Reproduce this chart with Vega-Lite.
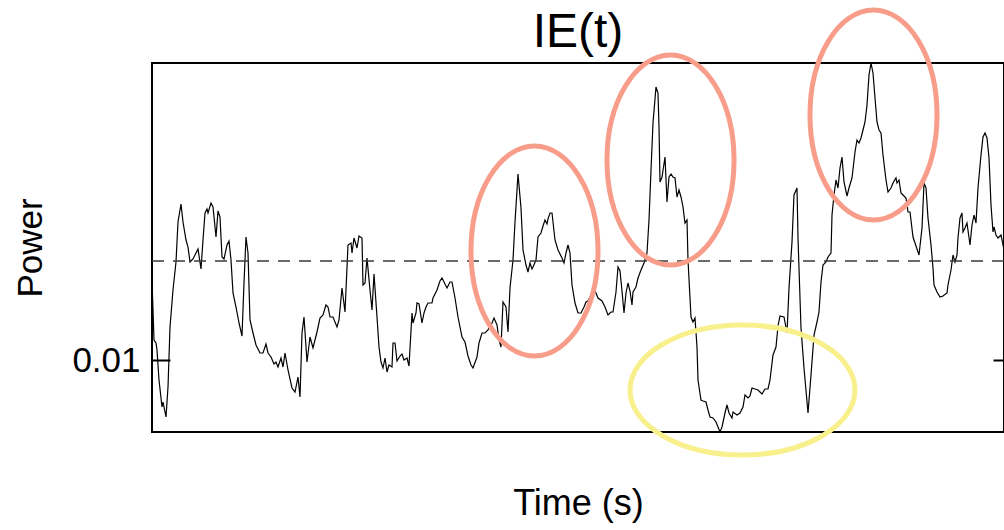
{
  "$schema": "https://vega.github.io/schema/vega-lite/v6.json",
  "width": 852,
  "height": 369,
  "autosize": "none",
  "padding": {"left": 152, "top": 63, "right": 0, "bottom": 98},
  "config": {
    "font": "Liberation Sans",
    "view": {"stroke": "black", "strokeWidth": 2},
    "background": "white"
  },
  "title": {"text": "IE(t)", "fontSize": 48, "fontWeight": "normal", "font": "Liberation Sans", "color": "black", "offset": -57, "anchor": "middle"},
  "datasets": {
    "series": [
{"t":0.0,"p":0.0180},{"t":0.2,"p":0.0120},{"t":0.4,"p":0.0117},{"t":0.5,"p":0.0110},{"t":0.7,"p":0.0080},{"t":1.0,"p":0.0053},{"t":1.1,"p":0.0058},{"t":1.4,"p":0.0043},{"t":1.6,"p":0.0073},{"t":1.8,"p":0.0133},
{"t":2.1,"p":0.0170},{"t":2.4,"p":0.0198},{"t":2.6,"p":0.0238},{"t":2.9,"p":0.0256},{"t":3.1,"p":0.0238},{"t":3.4,"p":0.0220},{"t":3.6,"p":0.0213},{"t":3.8,"p":0.0198},{"t":4.1,"p":0.0201},{"t":4.3,"p":0.0205},
{"t":4.6,"p":0.0211},{"t":4.9,"p":0.0191},{"t":5.1,"p":0.0220},{"t":5.3,"p":0.0247},{"t":5.5,"p":0.0251},{"t":5.6,"p":0.0247},{"t":5.9,"p":0.0257},{"t":6.1,"p":0.0253},{"t":6.4,"p":0.0223},{"t":6.6,"p":0.0249},
{"t":6.8,"p":0.0243},{"t":7.0,"p":0.0203},{"t":7.2,"p":0.0201},{"t":7.5,"p":0.0215},{"t":7.7,"p":0.0219},{"t":7.9,"p":0.0200},{"t":8.1,"p":0.0167},{"t":8.4,"p":0.0153},{"t":8.7,"p":0.0137},{"t":9.0,"p":0.0124},
{"t":9.2,"p":0.0177},{"t":9.4,"p":0.0223},{"t":9.6,"p":0.0207},{"t":9.8,"p":0.0140},{"t":10.1,"p":0.0127},{"t":10.4,"p":0.0115},{"t":10.8,"p":0.0107},{"t":11.1,"p":0.0107},{"t":11.4,"p":0.0116},{"t":11.6,"p":0.0107},
{"t":11.9,"p":0.0103},{"t":12.2,"p":0.0096},{"t":12.4,"p":0.0098},{"t":12.6,"p":0.0093},{"t":12.9,"p":0.0102},{"t":13.1,"p":0.0093},{"t":13.3,"p":0.0107},{"t":13.6,"p":0.0090},{"t":14.0,"p":0.0072},{"t":14.3,"p":0.0068},
{"t":14.6,"p":0.0083},{"t":14.8,"p":0.0063},{"t":15.0,"p":0.0127},{"t":15.2,"p":0.0143},{"t":15.5,"p":0.0098},{"t":15.8,"p":0.0123},{"t":16.1,"p":0.0112},{"t":16.5,"p":0.0128},{"t":16.8,"p":0.0142},{"t":17.1,"p":0.0145},
{"t":17.4,"p":0.0155},{"t":17.6,"p":0.0153},{"t":17.8,"p":0.0143},{"t":18.1,"p":0.0143},{"t":18.5,"p":0.0133},{"t":18.7,"p":0.0140},{"t":19.0,"p":0.0172},{"t":19.3,"p":0.0148},{"t":19.6,"p":0.0215},{"t":19.9,"p":0.0217},
{"t":20.0,"p":0.0207},{"t":20.2,"p":0.0222},{"t":20.5,"p":0.0212},{"t":20.7,"p":0.0224},{"t":21.0,"p":0.0222},{"t":21.1,"p":0.0175},{"t":21.3,"p":0.0177},{"t":21.5,"p":0.0202},{"t":21.8,"p":0.0170},{"t":22.0,"p":0.0150},
{"t":22.2,"p":0.0186},{"t":22.5,"p":0.0143},{"t":22.7,"p":0.0113},{"t":22.9,"p":0.0098},{"t":23.1,"p":0.0092},{"t":23.3,"p":0.0102},{"t":23.5,"p":0.0088},{"t":23.7,"p":0.0095},{"t":24.0,"p":0.0093},{"t":24.1,"p":0.0117},
{"t":24.3,"p":0.0117},{"t":24.5,"p":0.0099},{"t":24.8,"p":0.0104},{"t":25.0,"p":0.0106},{"t":25.2,"p":0.0100},{"t":25.5,"p":0.0102},{"t":25.7,"p":0.0094},{"t":26.0,"p":0.0147},{"t":26.1,"p":0.0137},{"t":26.4,"p":0.0147},
{"t":26.5,"p":0.0157},{"t":26.7,"p":0.0156},{"t":27.0,"p":0.0137},{"t":27.2,"p":0.0147},{"t":27.4,"p":0.0153},{"t":27.6,"p":0.0157},{"t":28.0,"p":0.0157},{"t":28.1,"p":0.0162},{"t":28.5,"p":0.0170},{"t":28.8,"p":0.0179},
{"t":29.0,"p":0.0182},{"t":29.3,"p":0.0176},{"t":29.5,"p":0.0172},{"t":29.8,"p":0.0178},{"t":30.0,"p":0.0178},{"t":30.3,"p":0.0162},{"t":30.6,"p":0.0143},{"t":31.0,"p":0.0123},{"t":31.3,"p":0.0118},{"t":31.6,"p":0.0104},
{"t":31.9,"p":0.0095},{"t":32.1,"p":0.0092},{"t":32.5,"p":0.0103},{"t":32.7,"p":0.0117},{"t":33.0,"p":0.0127},{"t":33.3,"p":0.0127},{"t":33.6,"p":0.0130},{"t":34.0,"p":0.0137},{"t":34.2,"p":0.0142},{"t":34.5,"p":0.0135},
{"t":34.7,"p":0.0120},{"t":34.9,"p":0.0113},{"t":35.1,"p":0.0158},{"t":35.4,"p":0.0153},{"t":35.6,"p":0.0128},{"t":35.8,"p":0.0172},{"t":36.1,"p":0.0200},{"t":36.3,"p":0.0238},{"t":36.6,"p":0.0286},{"t":36.9,"p":0.0252},
{"t":37.1,"p":0.0210},{"t":37.4,"p":0.0195},{"t":37.6,"p":0.0188},{"t":37.8,"p":0.0197},{"t":38.0,"p":0.0191},{"t":38.1,"p":0.0193},{"t":38.4,"p":0.0200},{"t":38.6,"p":0.0223},{"t":38.9,"p":0.0227},{"t":39.1,"p":0.0234},
{"t":39.3,"p":0.0240},{"t":39.5,"p":0.0236},{"t":39.6,"p":0.0241},{"t":39.8,"p":0.0247},{"t":40.0,"p":0.0247},{"t":40.3,"p":0.0220},{"t":40.6,"p":0.0210},{"t":41.0,"p":0.0202},{"t":41.2,"p":0.0197},{"t":41.4,"p":0.0207},
{"t":41.6,"p":0.0215},{"t":41.8,"p":0.0207},{"t":42.0,"p":0.0175},{"t":42.3,"p":0.0157},{"t":42.6,"p":0.0147},{"t":42.9,"p":0.0147},{"t":43.2,"p":0.0153},{"t":43.4,"p":0.0158},{"t":43.6,"p":0.0159},{"t":43.9,"p":0.0165},
{"t":44.2,"p":0.0172},{"t":44.4,"p":0.0167},{"t":44.6,"p":0.0162},{"t":45.0,"p":0.0159},{"t":45.3,"p":0.0153},{"t":45.6,"p":0.0145},{"t":45.9,"p":0.0148},{"t":46.1,"p":0.0148},{"t":46.4,"p":0.0168},{"t":46.6,"p":0.0193},
{"t":46.8,"p":0.0189},{"t":47.0,"p":0.0169},{"t":47.2,"p":0.0147},{"t":47.4,"p":0.0167},{"t":47.6,"p":0.0177},{"t":47.8,"p":0.0169},{"t":48.0,"p":0.0155},{"t":48.1,"p":0.0168},{"t":48.4,"p":0.0173},{"t":48.6,"p":0.0182},
{"t":48.9,"p":0.0190},{"t":49.2,"p":0.0197},{"t":49.5,"p":0.0207},{"t":49.7,"p":0.0240},{"t":49.9,"p":0.0290},{"t":50.1,"p":0.0337},{"t":50.4,"p":0.0373},{"t":50.6,"p":0.0367},{"t":50.7,"p":0.0333},{"t":50.8,"p":0.0278},
{"t":51.0,"p":0.0283},{"t":51.3,"p":0.0303},{"t":51.5,"p":0.0258},{"t":51.7,"p":0.0283},{"t":51.9,"p":0.0286},{"t":52.1,"p":0.0283},{"t":52.3,"p":0.0282},{"t":52.5,"p":0.0263},{"t":52.7,"p":0.0270},{"t":52.9,"p":0.0263},
{"t":53.1,"p":0.0253},{"t":53.3,"p":0.0237},{"t":53.5,"p":0.0240},{"t":53.6,"p":0.0200},{"t":53.9,"p":0.0143},{"t":54.1,"p":0.0138},{"t":54.3,"p":0.0142},{"t":54.5,"p":0.0113},{"t":54.6,"p":0.0080},{"t":54.9,"p":0.0060},
{"t":55.1,"p":0.0059},{"t":55.4,"p":0.0058},{"t":55.6,"p":0.0050},{"t":55.8,"p":0.0043},{"t":56.1,"p":0.0042},{"t":56.4,"p":0.0038},{"t":56.6,"p":0.0033},{"t":56.8,"p":0.0028},{"t":57.0,"p":0.0033},{"t":57.3,"p":0.0047},
{"t":57.5,"p":0.0055},{"t":57.7,"p":0.0047},{"t":58.0,"p":0.0042},{"t":58.1,"p":0.0048},{"t":58.5,"p":0.0045},{"t":58.8,"p":0.0047},{"t":59.1,"p":0.0053},{"t":59.3,"p":0.0065},{"t":59.6,"p":0.0062},{"t":59.8,"p":0.0064},
{"t":60.0,"p":0.0072},{"t":60.3,"p":0.0071},{"t":60.6,"p":0.0070},{"t":61.0,"p":0.0066},{"t":61.3,"p":0.0071},{"t":61.6,"p":0.0071},{"t":61.8,"p":0.0080},{"t":62.1,"p":0.0105},{"t":62.4,"p":0.0113},{"t":62.6,"p":0.0134},
{"t":62.8,"p":0.0144},{"t":63.2,"p":0.0143},{"t":63.5,"p":0.0127},{"t":63.7,"p":0.0172},{"t":64.0,"p":0.0218},{"t":64.2,"p":0.0265},{"t":64.5,"p":0.0272},{"t":64.6,"p":0.0222},{"t":64.9,"p":0.0132},{"t":65.2,"p":0.0092},
{"t":65.6,"p":0.0047},{"t":65.9,"p":0.0085},{"t":66.2,"p":0.0125},{"t":66.5,"p":0.0138},{"t":66.7,"p":0.0148},{"t":66.9,"p":0.0178},{"t":67.1,"p":0.0195},{"t":67.4,"p":0.0198},{"t":67.6,"p":0.0203},{"t":67.9,"p":0.0207},
{"t":68.0,"p":0.0245},{"t":68.2,"p":0.0265},{"t":68.4,"p":0.0280},{"t":68.6,"p":0.0272},{"t":68.8,"p":0.0292},{"t":69.0,"p":0.0303},{"t":69.2,"p":0.0278},{"t":69.5,"p":0.0264},{"t":69.7,"p":0.0272},{"t":70.0,"p":0.0282},
{"t":70.3,"p":0.0308},{"t":70.5,"p":0.0320},{"t":70.7,"p":0.0317},{"t":70.9,"p":0.0322},{"t":71.1,"p":0.0330},{"t":71.3,"p":0.0338},{"t":71.5,"p":0.0355},{"t":71.7,"p":0.0385},{"t":71.9,"p":0.0397},{"t":72.1,"p":0.0387},
{"t":72.3,"p":0.0362},{"t":72.5,"p":0.0338},{"t":72.7,"p":0.0330},{"t":72.9,"p":0.0327},{"t":73.1,"p":0.0305},{"t":73.4,"p":0.0280},{"t":73.6,"p":0.0268},{"t":73.9,"p":0.0272},{"t":74.1,"p":0.0277},{"t":74.4,"p":0.0282},
{"t":74.5,"p":0.0277},{"t":74.7,"p":0.0280},{"t":74.9,"p":0.0267},{"t":75.1,"p":0.0265},{"t":75.4,"p":0.0262},{"t":75.6,"p":0.0248},{"t":75.8,"p":0.0248},{"t":76.1,"p":0.0223},{"t":76.3,"p":0.0217},{"t":76.6,"p":0.0208},
{"t":76.7,"p":0.0205},{"t":77.0,"p":0.0232},{"t":77.2,"p":0.0277},{"t":77.4,"p":0.0272},{"t":77.6,"p":0.0242},{"t":77.9,"p":0.0215},{"t":78.1,"p":0.0192},{"t":78.2,"p":0.0175},{"t":78.5,"p":0.0168},{"t":78.8,"p":0.0163},
{"t":79.1,"p":0.0164},{"t":79.5,"p":0.0167},{"t":79.6,"p":0.0175},{"t":79.9,"p":0.0190},{"t":80.1,"p":0.0205},{"t":80.3,"p":0.0198},{"t":80.5,"p":0.0205},{"t":80.6,"p":0.0222},{"t":80.8,"p":0.0242},{"t":81.0,"p":0.0247},
{"t":81.1,"p":0.0228},{"t":81.3,"p":0.0232},{"t":81.5,"p":0.0237},{"t":81.8,"p":0.0215},{"t":82.0,"p":0.0235},{"t":82.2,"p":0.0245},{"t":82.4,"p":0.0237},{"t":82.6,"p":0.0272},{"t":82.9,"p":0.0305},{"t":83.1,"p":0.0323},
{"t":83.3,"p":0.0327},{"t":83.5,"p":0.0322},{"t":83.7,"p":0.0302},{"t":83.9,"p":0.0255},{"t":84.1,"p":0.0228},{"t":84.2,"p":0.0233},{"t":84.4,"p":0.0225},{"t":84.6,"p":0.0222},{"t":84.9,"p":0.0225},{"t":85.2,"p":0.0210}
    ],
    "mean": [{"p": 0.0199}],
    "highs": [{"t": 38.25, "p": 0.0209}, {"t": 51.85, "p": 0.0300}, {"t": 72.15, "p": 0.0345}],
    "lows": [{"t": 59.05, "p": 0.0070}]
  },
  "resolve": {"axis": {"y": "independent"}},
  "layer": [
    {
      "data": {"name": "series"},
      "mark": {"type": "line", "color": "black", "strokeWidth": 1.2, "interpolate": "linear"},
      "encoding": {
        "x": {"field": "t", "type": "quantitative", "scale": {"domain": [0, 85.2], "nice": false, "zero": false},
              "axis": {"title": "Time (s)", "labels": false, "ticks": false, "domain": false, "grid": false, "titleFontSize": 36, "titleFont": "Liberation Sans", "titleFontWeight": "normal", "titleColor": "black", "titlePadding": 54}},
        "y": {"field": "p", "type": "quantitative", "scale": {"domain": [0.0028, 0.0397], "nice": false, "zero": false},
              "axis": {"title": "Power", "orient": "left", "values": [0.01], "format": ".2f", "grid": false, "domain": false, "tickSize": -18, "tickWidth": 2, "tickColor": "black", "labelPadding": 30, "labelFontSize": 35, "labelFont": "Liberation Sans", "labelColor": "black", "titleFontSize": 35, "titleFont": "Liberation Sans", "titleFontWeight": "normal", "titleColor": "black", "titlePadding": 23}}
      }
    },
    {
      "data": {"name": "mean"},
      "mark": {"type": "rule", "color": "#3a3a3a", "strokeWidth": 1.5, "strokeDash": [12, 9]},
      "encoding": {
        "y": {"field": "p", "type": "quantitative",
              "axis": {"orient": "right", "title": null, "values": [0.01], "labels": false, "grid": false, "domain": false, "tickSize": -11, "tickWidth": 2, "tickColor": "black"}}
      }
    },
    {
      "data": {"name": "highs"},
      "mark": {"type": "point", "filled": false, "shape": "M -0.605 0 A 0.605 1 0 1 1 0.605 0 A 0.605 1 0 1 1 -0.605 0 Z", "size": 44100, "stroke": "#F99D8B", "strokeWidth": 5, "opacity": 1},
      "encoding": {
        "x": {"field": "t", "type": "quantitative"},
        "y": {"field": "p", "type": "quantitative", "axis": null}
      }
    },
    {
      "data": {"name": "lows"},
      "mark": {"type": "point", "filled": false, "shape": "M -1 0 A 1 0.578 0 1 1 1 0 A 1 0.578 0 1 1 -1 0 Z", "size": 50625, "stroke": "#F8F08C", "strokeWidth": 5, "opacity": 1},
      "encoding": {
        "x": {"field": "t", "type": "quantitative"},
        "y": {"field": "p", "type": "quantitative", "axis": null}
      }
    }
  ]
}
